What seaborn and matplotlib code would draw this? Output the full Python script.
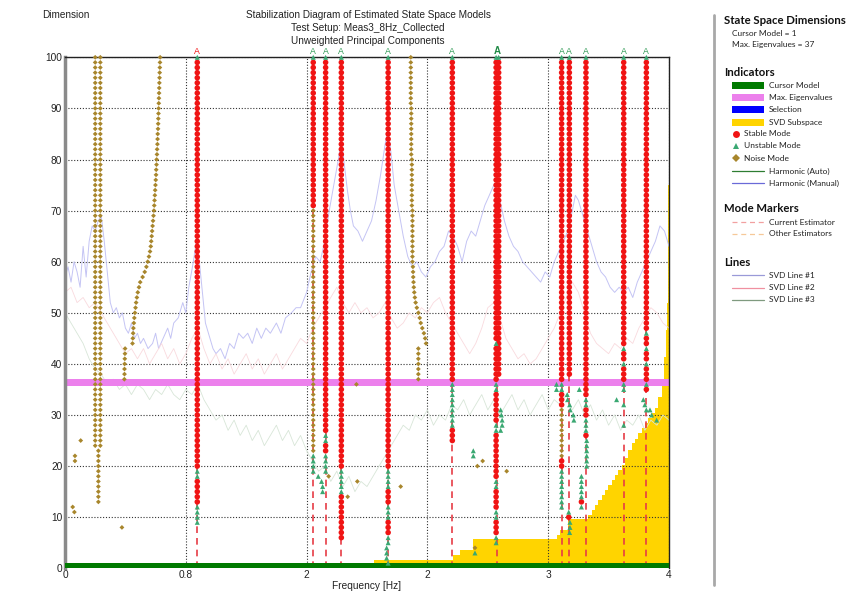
import numpy as np
import pandas as pd
import matplotlib
matplotlib.use("Agg")
import matplotlib.pyplot as plt
import seaborn as sns
from matplotlib.patches import Rectangle
from matplotlib.lines import Line2D

# ------------------------------------------------------------------ data
x_tick_pos = [0, 0.8, 1.6, 2.4, 3.2, 4.0]
x_tick_labels = ["0", "0.8", "2", "2", "3", "4"]
y_ticks = [0, 10, 20, 30, 40, 50, 60, 70, 80, 90, 100]

# frequencies of estimated modes (columns marked with "A")
mode_letter_freqs = [0.876, 1.644, 1.726, 1.83, 2.14, 2.565, 2.863, 3.289, 3.34, 3.45, 3.70, 3.85]
mode_letter_kind = ["stable", "unstable", "unstable", "unstable", "unstable", "unstable",
                    "double", "unstable", "unstable", "unstable", "unstable", "unstable"]
marker_line_freqs = [0.876, 1.644, 1.726, 1.83, 2.14, 2.565, 2.862, 3.289, 3.34, 3.45, 3.70, 3.85]

# runs of model orders: (frequency, lowest order, highest order)
stable_runs = [
    (0.876, 20, 99), (0.876, 13, 17),
    (1.644, 71, 99),
    (1.726, 27, 99), (1.726, 23, 24),
    (1.83, 20, 99), (1.83, 6, 14),
    (2.14, 20, 99), (2.14, 13, 15), (2.14, 7, 9),
    (2.565, 37, 99), (2.565, 25, 27),
    (2.855, 45, 99), (2.855, 37, 43), (2.855, 29, 34), (2.855, 18, 26),
    (2.855, 12, 15), (2.855, 7, 9),
    (2.872, 38, 99),
    (3.289, 37, 99), (3.289, 32, 34), (3.289, 20, 21),
    (3.34, 38, 99),
    (3.45, 34, 99), (3.45, 30, 31), (3.45, 26, 26),
    (3.70, 44, 99), (3.70, 41, 42), (3.70, 37, 39),
    (3.85, 47, 99), (3.85, 44, 45), (3.85, 41, 42), (3.85, 37, 39), (3.85, 35, 35),
]
stable_points = [(3.336, 10), (3.42, 13)]

unstable_runs = [
    (0.876, 18, 19), (0.876, 9, 12),
    (1.644, 19, 22),
    (1.726, 25, 26), (1.726, 19, 22),
    (1.83, 15, 19),
    (2.14, 16, 19), (2.14, 10, 12), (2.14, 5, 6),
    (2.565, 28, 36),
    (2.855, 44, 44), (2.855, 35, 36), (2.855, 27, 28), (2.855, 16, 17),
    (2.855, 10, 11), (2.855, 5, 6),
    (3.289, 35, 36), (3.289, 12, 19),
    (3.45, 32, 33), (3.45, 27, 29), (3.455, 20, 25),
    (3.42, 14, 18),
    (3.70, 43, 43), (3.70, 40, 40), (3.70, 35, 36),
    (3.85, 46, 46), (3.85, 43, 43), (3.85, 40, 40), (3.85, 36, 36),
]
unstable_points = [
    (1.677, 18), (1.699, 17), (1.706, 16), (1.706, 15),
    (2.13, 4), (2.13, 3), (2.13, 2), (2.14, 1),
    (2.704, 23), (2.704, 22), (2.715, 3),
    (2.885, 31), (2.89, 30), (2.895, 29), (2.895, 28), (2.885, 27),
    (3.255, 36), (3.255, 35),
    (3.326, 34), (3.328, 33), (3.342, 32), (3.346, 31), (3.366, 30), (3.370, 29),
    (3.336, 11), (3.344, 9), (3.344, 8), (3.342, 7),
    (3.406, 35), (3.42, 12),
    (3.70, 32), (3.70, 28), (3.653, 33),
    (3.83, 33), (3.84, 32), (3.85, 31), (3.874, 31), (3.885, 30), (3.918, 29),
]
unstable_top = [0.876, 1.644, 1.726, 1.83, 2.14, 2.565, 2.855, 2.872, 3.289, 3.34, 3.45, 3.70, 3.85]

noise_runs = [
    (0.200, 24, 100), (0.234, 24, 100), (0.221, 13, 23),
    (1.644, 23, 70),
    (2.290, 91, 100), (2.293, 81, 90), (2.297, 71, 80), (2.301, 60, 70),
    (2.340, 37, 43),
    (3.289, 22, 31),
]
noise_points = [
    (0.051, 12), (0.062, 11), (0.066, 22), (0.066, 21), (0.104, 25), (0.377, 8),
    (1.746, 18), (1.872, 14), (1.93, 36), (1.936, 17), (2.223, 16),
    (2.715, 4), (2.731, 20), (2.766, 21), (2.925, 19),
    (2.304, 59), (2.305, 58), (2.306, 57), (2.308, 56), (2.310, 55), (2.313, 54),
    (2.317, 53), (2.322, 52), (2.330, 51), (2.340, 50), (2.349, 49), (2.356, 48),
    (2.366, 47), (2.377, 46), (2.385, 45), (2.391, 44),
]
# drifting noise pole near 0.6 Hz, orders 100 .. 37
drift_orders = list(range(100, 36, -1))
drift_freqs = [0.630, 0.629, 0.628, 0.627, 0.626, 0.625, 0.624, 0.623, 0.622, 0.621,
               0.620, 0.619, 0.618, 0.617, 0.616, 0.614, 0.613, 0.612, 0.610, 0.609,
               0.607, 0.606, 0.604, 0.603, 0.601, 0.599, 0.597, 0.595, 0.593, 0.591,
               0.589, 0.586, 0.583, 0.580, 0.577, 0.574, 0.571, 0.568, 0.563, 0.556,
               0.548, 0.539, 0.528, 0.514, 0.498, 0.490, 0.482, 0.476, 0.471, 0.467,
               0.463, 0.459, 0.456, 0.453, 0.451, 0.449, 0.447,
               0.398, 0.397, 0.396, 0.395, 0.394, 0.394, 0.393]

# SVD subspace (staircase)
svd_sub_freq = [2.048, 2.572, 2.616, 2.704, 3.256, 3.278, 3.333, 3.466, 3.488, 3.510,
                3.532, 3.554, 3.576, 3.598, 3.620, 3.642, 3.664, 3.687, 3.709, 3.731,
                3.753, 3.775, 3.797, 3.819, 3.841, 3.863, 3.885, 3.907, 3.929, 3.951,
                3.967, 3.980, 3.989, 3.995, 3.998, 4.0]
svd_sub_height = [1.6, 2.6, 3.6, 5.7, 6.6, 7.5, 9.6, 10.4, 11.4, 12.4,
                  13.4, 14.4, 15.3, 16.3, 17.3, 18.3, 19.2, 20.2, 21.5, 23.1,
                  24.6, 25.4, 26.4, 27.4, 28.4, 29.4, 30.3, 31.3, 33.6, 36.8,
                  41.4, 46.6, 51.9, 75.0, 100.0, 100.0]

max_eigenvalues = 36.3

svd1_freq = [0.00, 0.02, 0.04, 0.06, 0.08, 0.10, 0.12, 0.14, 0.16, 0.18, 0.20, 0.22, 0.24,
             0.26, 0.28, 0.30, 0.32, 0.34, 0.36, 0.38, 0.40, 0.42, 0.44, 0.46, 0.48, 0.50,
             0.52, 0.55, 0.58, 0.60, 0.62, 0.65, 0.68, 0.70, 0.72, 0.75, 0.78, 0.80, 0.82,
             0.85, 0.87, 0.89, 0.91, 0.93, 0.95, 0.98, 1.00, 1.03, 1.06, 1.09, 1.12, 1.15,
             1.18, 1.21, 1.24, 1.27, 1.30, 1.33, 1.36, 1.40, 1.43, 1.46, 1.50, 1.53, 1.56,
             1.60, 1.63, 1.66, 1.69, 1.72, 1.75, 1.78, 1.81, 1.83, 1.85, 1.87, 1.89, 1.91,
             1.94, 1.97, 2.00, 2.03, 2.06, 2.09, 2.12, 2.14, 2.16, 2.18, 2.21, 2.24, 2.27,
             2.30, 2.33, 2.36, 2.39, 2.42, 2.45, 2.48, 2.51, 2.54, 2.57, 2.60, 2.63, 2.66,
             2.69, 2.72, 2.75, 2.78, 2.81, 2.84, 2.86, 2.88, 2.91, 2.94, 2.97, 3.00, 3.03,
             3.06, 3.09, 3.12, 3.15, 3.18, 3.21, 3.24, 3.27, 3.30, 3.33, 3.36, 3.38, 3.40,
             3.43, 3.46, 3.49, 3.52, 3.55, 3.58, 3.61, 3.64, 3.67, 3.70, 3.73, 3.76, 3.79,
             3.82, 3.85, 3.88, 3.91, 3.94, 3.97, 4.00]
svd1_val = [57, 59, 56, 60, 58, 55, 63, 57, 64, 67, 66, 68, 69,
            64, 58, 52, 50, 51, 49, 50, 47, 46, 48, 45, 46, 44,
            45, 43, 44, 46, 43, 45, 47, 45, 48, 49, 52, 50, 55,
            60, 64, 60, 54, 48, 46, 43, 42, 43, 41, 44, 43, 46,
            45, 46, 44, 47, 45, 47, 46, 48, 46, 49, 50, 51, 51,
            54, 58, 61, 60, 64, 70, 75, 80, 84, 79, 74, 70, 67,
            66, 64, 66, 68, 72, 77, 83, 86, 81, 75, 70, 65, 61,
            59, 60, 58, 57, 59, 60, 62, 63, 66, 65, 63, 60, 64,
            66, 65, 68, 71, 73, 75, 74, 72, 68, 65, 63, 62, 60,
            59, 58, 57, 56, 58, 57, 60, 62, 64, 66, 70, 73, 72,
            69, 66, 63, 60, 58, 57, 55, 54, 55, 54, 55, 53, 56,
            58, 60, 62, 64, 67, 66, 63]

svd2_freq = [0.00, 0.04, 0.08, 0.12, 0.16, 0.20, 0.24, 0.28, 0.32, 0.36, 0.40, 0.44, 0.48,
             0.52, 0.56, 0.60, 0.64, 0.68, 0.72, 0.76, 0.80, 0.84, 0.88, 0.92, 0.96, 1.00,
             1.04, 1.08, 1.12, 1.16, 1.20, 1.24, 1.28, 1.32, 1.36, 1.40, 1.44, 1.48, 1.52,
             1.56, 1.60, 1.64, 1.68, 1.72, 1.76, 1.80, 1.84, 1.88, 1.92, 1.96, 2.00, 2.04,
             2.08, 2.12, 2.16, 2.20, 2.24, 2.28, 2.32, 2.36, 2.40, 2.44, 2.48, 2.52, 2.56,
             2.60, 2.64, 2.68, 2.72, 2.76, 2.80, 2.84, 2.88, 2.92, 2.96, 3.00, 3.04, 3.08,
             3.12, 3.16, 3.20, 3.24, 3.28, 3.32, 3.36, 3.40, 3.44, 3.48, 3.52, 3.56, 3.60,
             3.64, 3.68, 3.72, 3.76, 3.80, 3.84, 3.88, 3.92, 3.96, 4.00]
svd2_val = [54, 55, 52, 53, 51, 52, 50, 48, 46, 44, 42, 43, 41,
            43, 40, 42, 44, 41, 43, 40, 42, 45, 47, 43, 40, 42,
            39, 41, 38, 40, 42, 39, 41, 38, 40, 42, 39, 41, 43,
            45, 44, 47, 49, 51, 53, 55, 52, 50, 52, 50, 51, 49,
            50, 52, 49, 47, 48, 50, 49, 51, 50, 52, 53, 50, 48,
            46, 44, 42, 44, 47, 51, 52, 49, 45, 43, 41, 42, 40,
            41, 43, 45, 47, 50, 53, 56, 54, 50, 46, 44, 43, 42,
            44, 43, 45, 44, 47, 49, 51, 50, 48, 47]

svd3_freq = svd2_freq
svd3_val = [50, 48, 46, 44, 41, 39, 38, 36, 37, 35, 36, 34, 36,
            35, 33, 35, 34, 36, 34, 33, 35, 34, 36, 33, 31, 29,
            30, 27, 29, 26, 28, 25, 27, 24, 26, 28, 25, 27, 24,
            26, 23, 21, 19, 20, 17, 19, 16, 18, 15, 17, 16, 18,
            20, 22, 24, 26, 28, 27, 30, 29, 31, 28, 30, 29, 32,
            31, 33, 30, 32, 34, 31, 33, 30, 32, 34, 31, 33, 30,
            32, 34, 31, 33, 32, 34, 31, 33, 30, 32, 29, 31, 28,
            30, 27, 29, 28, 30, 27, 29, 28, 30, 29]

# ------------------------------------------------------------------ colours
C_STABLE = "#f01414"
C_UNSTABLE = "#3aa872"
C_NOISE = "#a8862c"
C_CURSOR = "#007a00"
C_MAXEIG = "#ec80ec"
C_SELECT = "#0000ff"
C_SVDSUB = "#ffd400"
C_SVD1 = "#c4c4f4"
C_SVD2 = "#f9dade"
C_SVD3 = "#d8e6d8"

# ------------------------------------------------------------------ assemble modes
rows = []
for f, lo, hi in noise_runs:
    rows += [(f, o, "Noise") for o in range(lo, hi + 1)]
rows += [(f, o, "Noise") for f, o in noise_points]
rows += [(f, o, "Noise") for f, o in zip(drift_freqs, drift_orders)]
for f, lo, hi in stable_runs:
    rows += [(f, o, "Stable") for o in range(lo, hi + 1)]
rows += [(f, o, "Stable") for f, o in stable_points]
for f, lo, hi in unstable_runs:
    rows += [(f, o, "Unstable") for o in range(lo, hi + 1)]
rows += [(f, o, "Unstable") for f, o in unstable_points]
rows += [(f, 100, "Unstable") for f in unstable_top]
modes = pd.DataFrame(rows, columns=["freq", "order", "kind"])

# ------------------------------------------------------------------ figure
sns.set_theme(style="white")
plt.rcParams["font.family"] = ["Liberation Sans", "DejaVu Sans"]

W, H = 859, 599
fig = plt.figure(figsize=(W / 100, H / 100), dpi=100)
fig.patch.set_facecolor("white")
ax_l, ax_r, ax_t, ax_b = 65, 669, 57.3, 568.3
ax = fig.add_axes([ax_l / W, 1 - ax_b / H, (ax_r - ax_l) / W, (ax_b - ax_t) / H])
ax.set_facecolor("white")

# SVD subspace staircase
ax.fill_between(svd_sub_freq, 0, svd_sub_height, step="post", color=C_SVDSUB,
                linewidth=0, zorder=1)

# SVD lines
sns.lineplot(x=svd1_freq, y=svd1_val, ax=ax, color=C_SVD1, linewidth=0.7,
             sort=False, estimator=None, zorder=2)
sns.lineplot(x=svd2_freq, y=svd2_val, ax=ax, color=C_SVD2, linewidth=0.6,
             sort=False, estimator=None, zorder=2)
sns.lineplot(x=svd3_freq, y=svd3_val, ax=ax, color=C_SVD3, linewidth=0.6,
             sort=False, estimator=None, zorder=2)

# max eigenvalue band
ax.axhspan(max_eigenvalues - 0.65, max_eigenvalues + 0.65, color=C_MAXEIG, lw=0, zorder=2.5)

# mode marker dashed lines
for f in marker_line_freqs:
    ax.axvline(f, color="#e63c46", linestyle=(0, (4, 3)), linewidth=1.2, zorder=3)

# cursor model bar
ax.axhspan(0, 1.1, color=C_CURSOR, lw=0, zorder=4)

# modes
sns.scatterplot(data=modes, x="freq", y="order", hue="kind", style="kind", size="kind",
                hue_order=["Noise", "Stable", "Unstable"],
                palette={"Stable": C_STABLE, "Unstable": C_UNSTABLE, "Noise": C_NOISE},
                markers={"Stable": "o", "Unstable": "^", "Noise": "D"},
                sizes={"Stable": 16, "Unstable": 13, "Noise": 6},
                linewidth=0, legend=False, ax=ax, zorder=5, clip_on=False)

# "A" letters above columns
for f, k in zip(mode_letter_freqs, mode_letter_kind):
    if k == "stable":
        ax.text(f, 101.2, "A", ha="center", va="center", fontsize=6.3,
                color=C_STABLE, clip_on=False)
    elif k == "double":
        ax.text(f, 101.2, "A", ha="center", va="center", fontsize=7.0,
                fontweight="bold", color="#1f8a45", clip_on=False)
    else:
        ax.text(f, 101.2, "A", ha="center", va="center", fontsize=6.3,
                color="#2f9a55", clip_on=False)

# axes styling
ax.set_xlim(0, 4)
ax.set_ylim(0, 100)
ax.set_xticks(x_tick_pos)
ax.set_xticklabels(x_tick_labels)
ax.set_yticks(y_ticks)
ax.set_yticklabels([str(v) for v in y_ticks])
ax.tick_params(axis="both", length=0, labelsize=7.3, colors="#222222")
ax.tick_params(axis="y", pad=2)
ax.tick_params(axis="x", pad=1)
ax.set_axisbelow("line")
ax.grid(True, color="#333333", linestyle=(0, (1, 1.6)), linewidth=0.8)
ax.set_xlabel("Frequency [Hz]", fontsize=7.3, labelpad=1, color="#222222")
ax.set_ylabel("")
for s in ["top", "right"]:
    ax.spines[s].set_color("#222222")
    ax.spines[s].set_linewidth(1.0)
ax.spines["left"].set_color("#8a8a8a")
ax.spines["left"].set_linewidth(2.5)
ax.spines["bottom"].set_visible(False)

# titles
def px(x, y):
    return x / W, 1 - y / H

fig.text(*px(42, 15), "Dimension", fontsize=7.2, ha="left", va="center", color="#222222")
fig.text(*px(368, 15), "Stabilization Diagram of Estimated State Space Models",
         fontsize=7.2, ha="center", va="center", color="#222222")
fig.text(*px(368, 28), "Test Setup: Meas3_8Hz_Collected", fontsize=7.2,
         ha="center", va="center", color="#222222")
fig.text(*px(368, 40.5), "Unweighted Principal Components", fontsize=7.2,
         ha="center", va="center", color="#222222")

# ------------------------------------------------------------------ legend panel
LF = ["Lato", "DejaVu Sans"]
fig.add_artist(Line2D([714 / W, 714 / W], [1 - 15 / H, 1 - 585 / H],
                      transform=fig.transFigure, color="#a8a8a8", linewidth=2))

def heading(y, s):
    fig.text(*px(724, y), s, fontsize=8.2, fontweight="bold", family=LF,
             ha="left", va="center", color="#111111")

def item(y, s, x=769):
    fig.text(*px(x, y), s, fontsize=6.0, family=LF, ha="left", va="center", color="#222222")

def patch(y, c):
    x0, y0 = px(732, y + 3.5)
    fig.add_artist(Rectangle((x0, y0), 32 / W, 7 / H, transform=fig.transFigure,
                             facecolor=c, edgecolor="none"))

def mline(y, c, ls="-"):
    x0, yy = px(732, y)
    x1, _ = px(764, y)
    fig.add_artist(Line2D([x0, x1], [yy, yy], transform=fig.transFigure,
                          color=c, linewidth=0.9, linestyle=ls))

def mark(y, c, m, ms):
    x0, yy = px(736, y)
    fig.add_artist(Line2D([x0], [yy], transform=fig.transFigure, marker=m,
                          color=c, markersize=ms, linestyle="none", markeredgewidth=0))

heading(20, "State Space Dimensions")
item(33, "Cursor Model = 1", x=732)
item(45, "Max. Eigenvalues = 37", x=732)

heading(72, "Indicators")
patch(85, C_CURSOR); item(85, "Cursor Model")
patch(97.5, C_MAXEIG); item(97.5, "Max. Eigenvalues")
patch(109.5, C_SELECT); item(109.5, "Selection")
patch(122, C_SVDSUB); item(122, "SVD Subspace")
mark(134, C_STABLE, "o", 5); item(134, "Stable Mode", x=744)
mark(146, C_UNSTABLE, "^", 5); item(146, "Unstable Mode", x=744)
mark(158, C_NOISE, "D", 4); item(158, "Noise Mode", x=744)
mline(171, "#2e7d32"); item(171, "Harmonic (Auto)")
mline(183, "#6a6ad8"); item(183, "Harmonic (Manual)")

heading(209, "Mode Markers")
mline(222, "#f2a0a0", ls=(0, (4, 3))); item(222, "Current Estimator")
mline(234, "#f6c898", ls=(0, (4, 3))); item(234, "Other Estimators")

heading(263, "Lines")
mline(275.5, "#9a9ad8"); item(275.5, "SVD Line #1")
mline(287.5, "#f090a0"); item(287.5, "SVD Line #2")
mline(300, "#7f9a7f"); item(300, "SVD Line #3")

fig.savefig("out.png", dpi=100, facecolor="white")
